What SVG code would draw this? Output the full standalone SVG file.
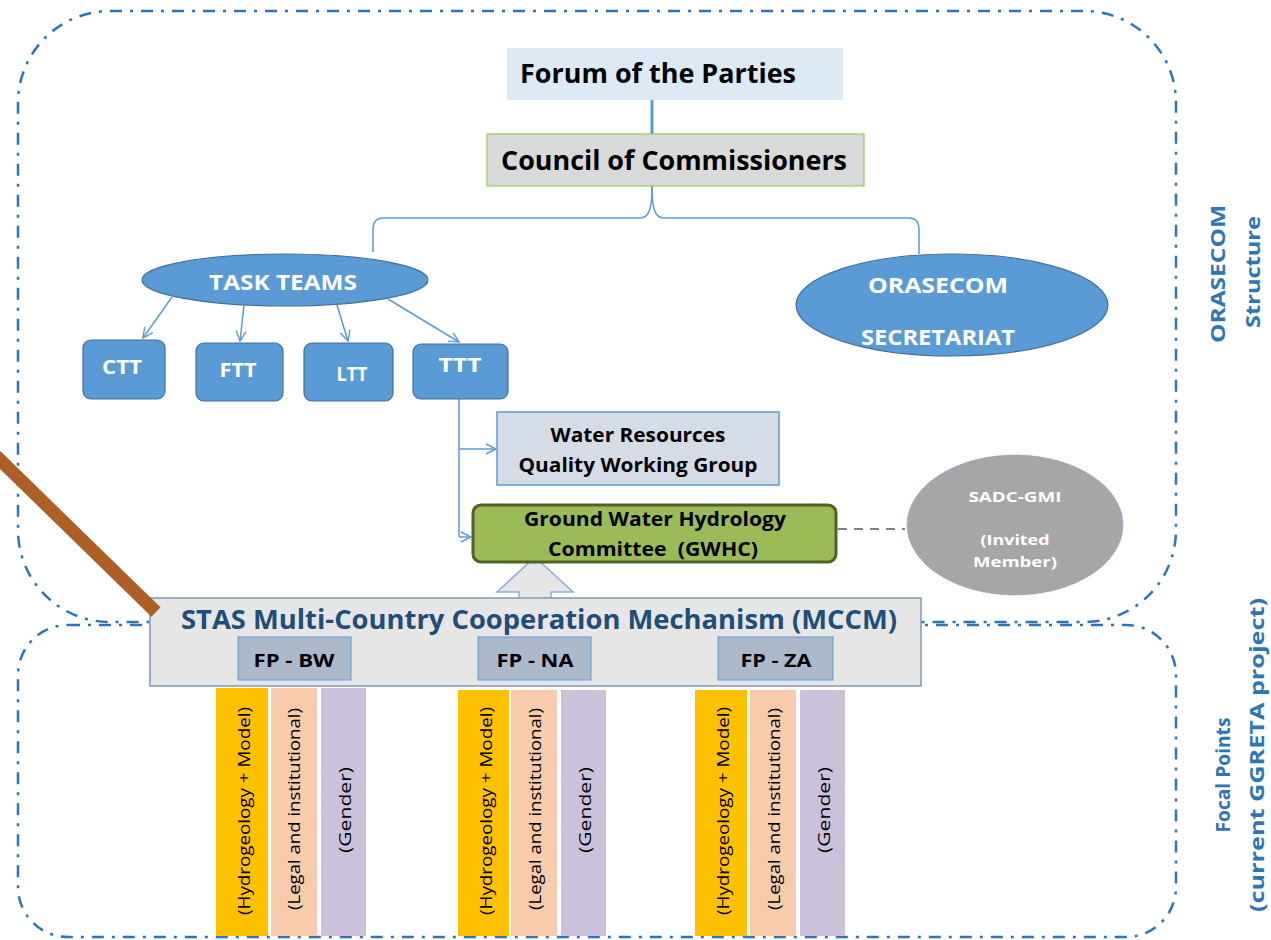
<svg xmlns="http://www.w3.org/2000/svg" width="1271" height="940" viewBox="0 0 1271 940">
<style>
text{font-family:"Open Sans","Liberation Sans",sans-serif;font-weight:bold}
.blk{fill:#000}
.wht{fill:#fff}
.frame{fill:none;stroke:#2e75b6;stroke-width:2.5;stroke-dasharray:12 8 3 8}
.conn{fill:none;stroke:#5b9bd5;stroke-width:1.5}
.tt{fill:#5b9bd5;stroke:#41719c;stroke-width:1.2}
.bar{font-weight:normal;font-size:17px;fill:#000}
.side{fill:#2e75b6;font-size:20px}
</style>
<defs>
<marker id="arr" viewBox="0 0 12 12" refX="11" refY="6" markerWidth="12" markerHeight="12" markerUnits="userSpaceOnUse" orient="auto">
<path d="M1,1 L11,6 L1,11" fill="none" stroke="#5b9bd5" stroke-width="1.4"/>
</marker>
</defs>
<rect width="1271" height="940" fill="#fff"/>
<g id="frames">
<rect class="frame" x="18" y="11" width="1158" height="611" rx="92" ry="92"/>
<rect class="frame" x="18" y="625" width="1158" height="312" rx="50" ry="50"/>
</g>
<g id="connectors">
<line x1="652" y1="100" x2="652" y2="134" stroke="#5b9bd5" stroke-width="3"/>
<path class="conn" d="M652,186 C652,206 650,218 640,218 L383,218 C376,218 373,222 373,230 L373,252"/>
<path class="conn" d="M652,186 C652,206 654,218 664,218 L909,218 C916,218 919,222 919,230 L919,254"/>
<line class="conn" x1="172" y1="297" x2="143" y2="338" marker-end="url(#arr)"/>
<line class="conn" x1="244" y1="305" x2="240" y2="341" marker-end="url(#arr)"/>
<line class="conn" x1="337" y1="305" x2="348" y2="341" marker-end="url(#arr)"/>
<line class="conn" x1="388" y1="299" x2="459" y2="342" marker-end="url(#arr)"/>
<path class="conn" d="M459,399 L459,537"/>
<line class="conn" x1="459" y1="449" x2="496" y2="449" marker-end="url(#arr)"/>
<line class="conn" x1="459" y1="537" x2="471" y2="537" marker-end="url(#arr)"/>
<line x1="838" y1="529" x2="905" y2="529" stroke="#808080" stroke-width="2" stroke-dasharray="9 7"/>
<path d="M535,557 L573,592 L551,592 L551,600 L519,600 L519,592 L497,592 Z" fill="#e7e6e6" stroke="#8eaadb" stroke-width="1.5"/>
</g>
<g id="forum">
<rect x="507" y="48" width="336" height="52" fill="#dde9f5"/>
<text class="blk" x="658" y="83" font-size="26" text-anchor="middle" textLength="276" lengthAdjust="spacingAndGlyphs">Forum of the Parties</text>
</g>
<g id="council">
<rect x="487" y="134" width="377" height="52" fill="#d9d9d9" stroke="#92d050" stroke-width="1.2"/>
<text class="blk" x="674" y="170" font-size="26" text-anchor="middle" textLength="346" lengthAdjust="spacingAndGlyphs">Council of Commissioners</text>
</g>
<g id="taskteams">
<ellipse class="tt" cx="285" cy="280" rx="143" ry="26"/>
<text class="wht" x="283" y="290" font-size="22" text-anchor="middle" textLength="148" lengthAdjust="spacingAndGlyphs">TASK TEAMS</text>
</g>
<g id="ctt">
<rect class="tt" x="83" y="340" width="82" height="59" rx="8"/>
<text class="wht" x="122" y="374" font-size="19" text-anchor="middle" textLength="40" lengthAdjust="spacingAndGlyphs">CTT</text>
</g>
<g id="ftt">
<rect class="tt" x="196" y="343" width="87" height="58" rx="8"/>
<text class="wht" x="238" y="377" font-size="19" text-anchor="middle" textLength="37" lengthAdjust="spacingAndGlyphs">FTT</text>
</g>
<g id="ltt">
<rect class="tt" x="304" y="343" width="89" height="58" rx="8"/>
<text class="wht" x="352" y="381" font-size="19" text-anchor="middle" textLength="31" lengthAdjust="spacingAndGlyphs">LTT</text>
</g>
<g id="ttt">
<rect class="tt" x="413" y="344" width="95" height="55" rx="8"/>
<text class="wht" x="460" y="372" font-size="19" text-anchor="middle" textLength="43" lengthAdjust="spacingAndGlyphs">TTT</text>
</g>
<g id="secretariat">
<ellipse class="tt" cx="952" cy="305" rx="156" ry="51"/>
<text class="wht" x="938" y="293" font-size="21" text-anchor="middle" textLength="140" lengthAdjust="spacingAndGlyphs">ORASECOM</text>
<text class="wht" x="938" y="345" font-size="21" text-anchor="middle" textLength="154" lengthAdjust="spacingAndGlyphs">SECRETARIAT</text>
</g>
<g id="wrqwg">
<rect x="497" y="412" width="282" height="73" fill="#d6dce5" stroke="#5b9bd5" stroke-width="1.5"/>
<text class="blk" x="638" y="442" font-size="20" text-anchor="middle" textLength="175" lengthAdjust="spacingAndGlyphs">Water Resources</text>
<text class="blk" x="638" y="472" font-size="20" text-anchor="middle" textLength="239" lengthAdjust="spacingAndGlyphs">Quality Working Group</text>
</g>
<g id="gwhc">
<rect x="473" y="505" width="363" height="57" rx="8" fill="#9bbb59" stroke="#4f6228" stroke-width="3"/>
<text class="blk" x="655" y="526" font-size="20" text-anchor="middle" textLength="262" lengthAdjust="spacingAndGlyphs">Ground Water Hydrology</text>
<text class="blk" x="653" y="556" font-size="20" text-anchor="middle" textLength="210" lengthAdjust="spacingAndGlyphs" xml:space="preserve">Committee  (GWHC)</text>
</g>
<g id="sadc">
<ellipse cx="1015" cy="525" rx="108" ry="70" fill="#a6a6a6" stroke="#5b9bd5" stroke-width="1" stroke-dasharray="1 1.5"/>
<text class="wht" x="1015" y="502" font-size="15" text-anchor="middle" textLength="93" lengthAdjust="spacingAndGlyphs">SADC-GMI</text>
<text class="wht" x="1015" y="545" font-size="15" text-anchor="middle" textLength="69" lengthAdjust="spacingAndGlyphs">(Invited</text>
<text class="wht" x="1015" y="567" font-size="15" text-anchor="middle" textLength="84" lengthAdjust="spacingAndGlyphs">Member)</text>
</g>
<g id="mccm">
<rect x="150" y="598" width="771" height="88" fill="#e7e6e6" stroke="#8497b0" stroke-width="1.5"/>
<text x="539" y="629" font-size="26" fill="#1f4e79" text-anchor="middle" textLength="716" lengthAdjust="spacingAndGlyphs">STAS Multi-Country Cooperation Mechanism (MCCM)</text>
</g>
<g id="fp-bw">
<rect x="238" y="637" width="113" height="43" fill="#acb9ca" stroke="#5b9bd5" stroke-width="1"/>
<text class="blk" x="294" y="667" font-size="18" text-anchor="middle" textLength="81" lengthAdjust="spacingAndGlyphs">FP - BW</text>
</g>
<g id="fp-na">
<rect x="478" y="637" width="113" height="43" fill="#acb9ca" stroke="#5b9bd5" stroke-width="1"/>
<text class="blk" x="535" y="667" font-size="18" text-anchor="middle" textLength="77" lengthAdjust="spacingAndGlyphs">FP - NA</text>
</g>
<g id="fp-za">
<rect x="718" y="637" width="115" height="43" fill="#acb9ca" stroke="#5b9bd5" stroke-width="1"/>
<text class="blk" x="776" y="667" font-size="18" text-anchor="middle" textLength="71" lengthAdjust="spacingAndGlyphs">FP - ZA</text>
</g>
<g id="bars-bw">
<rect x="216" y="688" width="52" height="248" fill="#ffc000"/>
<rect x="271" y="688" width="46" height="248" fill="#f8cbad"/>
<rect x="321" y="688" width="45" height="248" fill="#ccc1da"/>
<text class="bar" transform="translate(243,811) rotate(-90)" text-anchor="middle" dominant-baseline="central" textLength="208" lengthAdjust="spacingAndGlyphs">(Hydrogeology + Model)</text>
<text class="bar" transform="translate(293,809) rotate(-90)" text-anchor="middle" dominant-baseline="central" textLength="202" lengthAdjust="spacingAndGlyphs">(Legal and institutional)</text>
<text class="bar" transform="translate(344,810) rotate(-90)" text-anchor="middle" dominant-baseline="central" font-size="19" textLength="86" lengthAdjust="spacingAndGlyphs">(Gender)</text>
</g>
<g id="bars-na">
<rect x="458" y="690" width="51" height="246" fill="#ffc000"/>
<rect x="511" y="690" width="46" height="246" fill="#f8cbad"/>
<rect x="561" y="690" width="45" height="246" fill="#ccc1da"/>
<text class="bar" transform="translate(485,811) rotate(-90)" text-anchor="middle" dominant-baseline="central" textLength="208" lengthAdjust="spacingAndGlyphs">(Hydrogeology + Model)</text>
<text class="bar" transform="translate(534,809) rotate(-90)" text-anchor="middle" dominant-baseline="central" textLength="202" lengthAdjust="spacingAndGlyphs">(Legal and institutional)</text>
<text class="bar" transform="translate(584,810) rotate(-90)" text-anchor="middle" dominant-baseline="central" font-size="19" textLength="86" lengthAdjust="spacingAndGlyphs">(Gender)</text>
</g>
<g id="bars-za">
<rect x="695" y="690" width="52" height="246" fill="#ffc000"/>
<rect x="750" y="690" width="46" height="246" fill="#f8cbad"/>
<rect x="800" y="690" width="45" height="246" fill="#ccc1da"/>
<text class="bar" transform="translate(722,811) rotate(-90)" text-anchor="middle" dominant-baseline="central" textLength="208" lengthAdjust="spacingAndGlyphs">(Hydrogeology + Model)</text>
<text class="bar" transform="translate(773,809) rotate(-90)" text-anchor="middle" dominant-baseline="central" textLength="202" lengthAdjust="spacingAndGlyphs">(Legal and institutional)</text>
<text class="bar" transform="translate(823,810) rotate(-90)" text-anchor="middle" dominant-baseline="central" font-size="19" textLength="86" lengthAdjust="spacingAndGlyphs">(Gender)</text>
</g>
<g id="labels">
<text class="side" transform="translate(1217,274) rotate(-90)" text-anchor="middle" dominant-baseline="central" textLength="138" lengthAdjust="spacingAndGlyphs">ORASECOM</text>
<text class="side" transform="translate(1252,272) rotate(-90)" text-anchor="middle" dominant-baseline="central" textLength="112" lengthAdjust="spacingAndGlyphs">Structure</text>
<text class="side" transform="translate(1222,775) rotate(-90)" text-anchor="middle" dominant-baseline="central" textLength="115" lengthAdjust="spacingAndGlyphs">Focal Points</text>
<text class="side" transform="translate(1256,755) rotate(-90)" text-anchor="middle" dominant-baseline="central" textLength="314" lengthAdjust="spacingAndGlyphs">(current GGRETA project)</text>
</g>
<g id="pointer">
<line x1="-4" y1="456" x2="156" y2="612" stroke="#ad5f28" stroke-width="13"/>
</g>
</svg>
